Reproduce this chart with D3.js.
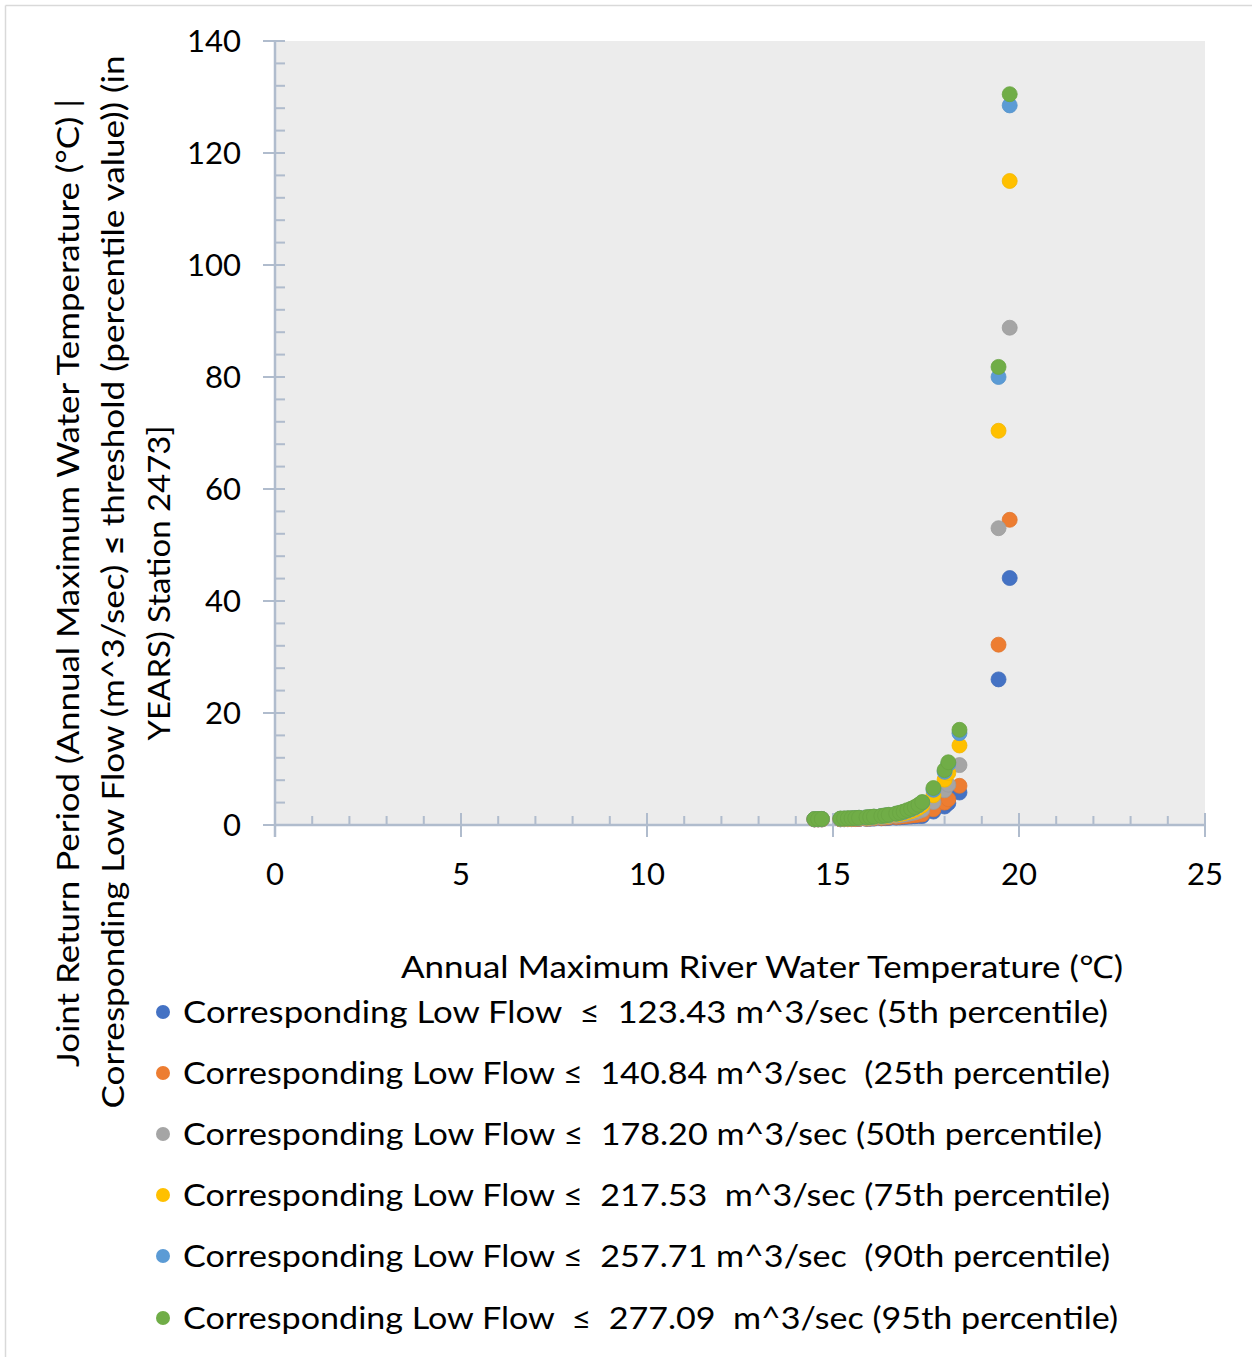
<!DOCTYPE html>
<html>
<head>
<meta charset="utf-8">
<script src="https://cdn.jsdelivr.net/npm/d3@7"></script>
<style>
  body { margin: 0; background: #fff; }
  text { font-family: Lato, "Open Sans", sans-serif; fill: #000; }
</style>
</head>
<body>
<svg width="1252" height="1357"></svg>
<script>
// annual maximum water temperatures (x values, deg C)
var temps = [14.5, 14.6, 14.7, 15.2, 15.3, 15.4, 15.5, 15.6, 15.7, 15.9, 16.0, 16.1, 16.3, 16.4, 16.5,
             16.7, 16.8, 16.9, 17.0, 17.1, 17.2, 17.3, 17.4, 17.7, 18.0, 18.1, 18.4, 19.45, 19.75];

// joint return periods (years) for each low-flow threshold
var rp5  = [1.0, 1.0, 1.0, 1.02, 1.03, 1.04, 1.05, 1.06, 1.08, 1.1, 1.12, 1.15, 1.2, 1.23, 1.27,
            1.33, 1.37, 1.42, 1.47, 1.52, 1.57, 1.62, 1.6, 2.4, 3.3, 3.9, 5.8, 26.0, 44.1];
var rp25 = [1.0, 1.0, 1.0, 1.03, 1.04, 1.05, 1.06, 1.08, 1.1, 1.13, 1.16, 1.2, 1.26, 1.3, 1.35,
            1.43, 1.48, 1.54, 1.6, 1.68, 1.75, 1.82, 1.9, 2.8, 4.0, 4.6, 7.0, 32.2, 54.5];
var rp50 = [1.02, 1.03, 1.04, 1.07, 1.08, 1.1, 1.12, 1.14, 1.17, 1.22, 1.26, 1.31, 1.4, 1.46, 1.53,
            1.66, 1.74, 1.84, 1.96, 2.1, 2.25, 2.45, 2.7, 4.1, 6.2, 7.2, 10.7, 53.0, 88.8];
var rp75 = [1.04, 1.05, 1.06, 1.1, 1.12, 1.14, 1.16, 1.19, 1.23, 1.3, 1.35, 1.41, 1.52, 1.6, 1.68,
            1.86, 1.97, 2.1, 2.28, 2.48, 2.72, 3.05, 3.5, 5.3, 8.1, 9.3, 14.2, 70.4, 115.0];
var rp90 = [1.05, 1.06, 1.08, 1.13, 1.15, 1.18, 1.2, 1.24, 1.28, 1.36, 1.41, 1.48, 1.6, 1.69, 1.78,
            2.0, 2.14, 2.32, 2.55, 2.8, 3.1, 3.5, 4.0, 6.3, 9.5, 10.9, 16.4, 80.0, 128.5];
var rp95 = [1.05, 1.07, 1.09, 1.15, 1.17, 1.2, 1.22, 1.25, 1.3, 1.38, 1.43, 1.5, 1.62, 1.72, 1.82,
            2.05, 2.2, 2.4, 2.65, 2.9, 3.2, 3.6, 4.1, 6.6, 9.8, 11.2, 17.0, 81.8, 130.5];

var seriesNames = [
  "Corresponding Low Flow  \u2264  123.43 m^3/sec (5th percentile)",
  "Corresponding Low Flow \u2264  140.84 m^3/sec  (25th percentile)",
  "Corresponding Low Flow \u2264  178.20 m^3/sec (50th percentile)",
  "Corresponding Low Flow \u2264  217.53  m^3/sec (75th percentile)",
  "Corresponding Low Flow \u2264  257.71 m^3/sec  (90th percentile)",
  "Corresponding Low Flow  \u2264  277.09  m^3/sec (95th percentile)"
];
var seriesValues = [rp5, rp25, rp50, rp75, rp90, rp95];
var seriesColors = ["#4472c4", "#ed7d31", "#a5a5a5", "#ffc000", "#5b9bd5", "#70ad47"];
var xTickLabels = [0, 5, 10, 15, 20, 25];
var yTickLabels = [0, 20, 40, 60, 80, 100, 120, 140];

var svg = d3.select("svg");
var axisCol = "#b0bccd";

// chart frame (cropped at right/bottom)
svg.append("line").attr("x1", 5.5).attr("x2", 1252).attr("y1", 5.5).attr("y2", 5.5)
  .attr("stroke", "#d9d9d9").attr("stroke-width", 1.5);
svg.append("line").attr("x1", 5.5).attr("x2", 5.5).attr("y1", 5.5).attr("y2", 1357)
  .attr("stroke", "#d9d9d9").attr("stroke-width", 1.5);

var x = d3.scaleLinear().domain([0, 25]).range([275, 1205]);
var y = d3.scaleLinear().domain([0, 140]).range([825, 41]);

// plot area
svg.append("rect").attr("x", x(0)).attr("y", y(140))
  .attr("width", x(25) - x(0)).attr("height", y(0) - y(140)).attr("fill", "#ececec");

var g = svg.append("g");

// x minor ticks (every 1) inside, majors crossing
d3.range(0, 26, 1).forEach(function(v) {
  if (v % 5 === 0) {
    g.append("line").attr("x1", x(v)).attr("x2", x(v)).attr("y1", y(0) - 12).attr("y2", y(0) + 12)
      .attr("stroke", axisCol).attr("stroke-width", 2);
  } else {
    g.append("line").attr("x1", x(v)).attr("x2", x(v)).attr("y1", y(0) - 9).attr("y2", y(0))
      .attr("stroke", axisCol).attr("stroke-width", 2);
  }
});
// y minor ticks (every 4) inside, majors crossing
d3.range(0, 141, 4).forEach(function(v) {
  g.append("line").attr("x1", x(0)).attr("x2", x(0) + 10).attr("y1", y(v)).attr("y2", y(v))
    .attr("stroke", axisCol).attr("stroke-width", 2);
});
yTickLabels.forEach(function(v) {
  g.append("line").attr("x1", x(0) - 12).attr("x2", x(0) + 10).attr("y1", y(v)).attr("y2", y(v))
    .attr("stroke", axisCol).attr("stroke-width", 2);
});
// axis lines
g.append("line").attr("x1", x(0)).attr("x2", x(25)).attr("y1", y(0)).attr("y2", y(0))
  .attr("stroke", axisCol).attr("stroke-width", 2.5);
g.append("line").attr("x1", x(0)).attr("x2", x(0)).attr("y1", y(140)).attr("y2", y(0) + 12)
  .attr("stroke", axisCol).attr("stroke-width", 2.5);

// tick labels
g.selectAll("text.xl").data(xTickLabels).enter().append("text")
  .attr("x", function(d) { return x(d); }).attr("y", 885)
  .attr("text-anchor", "middle").style("font-size", "31px").text(function(d) { return d; });
g.selectAll("text.yl").data(yTickLabels).enter().append("text")
  .attr("x", 241).attr("y", function(d) { return y(d) + 11; })
  .attr("text-anchor", "end").style("font-size", "31px").text(function(d) { return d; });

// series points
seriesValues.forEach(function(vals, i) {
  svg.append("g").selectAll("circle")
    .data(vals)
    .enter().append("circle")
    .attr("cx", function(d, j) { return x(temps[j]); })
    .attr("cy", function(d) { return y(d); })
    .attr("r", 7.5)
    .attr("fill", seriesColors[i])
    .attr("stroke", d3.color(seriesColors[i]).darker(0.15))
    .attr("stroke-width", 0.8);
});

// x axis title
svg.append("text").attr("x", 401).attr("y", 978)
  .attr("textLength", 722).attr("lengthAdjust", "spacingAndGlyphs")
  .style("font-size", "31px").text("Annual Maximum River Water Temperature (\u2103)");

// y axis title (three rotated lines)
var t1 = svg.append("text")
  .attr("transform", "translate(79,583) rotate(-90)")
  .attr("text-anchor", "middle")
  .attr("textLength", 968).attr("lengthAdjust", "spacingAndGlyphs")
  .style("font-size", "31px")
  .text("Joint Return Period (Annual Maximum Water Temperature (\u00b0C) |");

var t2 = svg.append("text")
  .attr("transform", "translate(124,582) rotate(-90)")
  .attr("text-anchor", "middle")
  .attr("textLength", 1053).attr("lengthAdjust", "spacingAndGlyphs")
  .style("font-size", "31px");
t2.append("tspan").text("Corresponding Low Flow (m^3/sec) ");
t2.append("tspan").style("font-weight", "bold").text("\u2264");
t2.append("tspan").text(" threshold (percentile value)) (in");

svg.append("text")
  .attr("transform", "translate(170,583) rotate(-90)")
  .attr("text-anchor", "middle")
  .attr("textLength", 315).attr("lengthAdjust", "spacingAndGlyphs")
  .style("font-size", "31px").text("YEARS) Station 2473]");

// legend
var legendY = [1012, 1073, 1134, 1195, 1256, 1318];
var legendEnd = [1108, 1110, 1102, 1110, 1110, 1118];
seriesNames.forEach(function(name, i) {
  svg.append("circle").attr("cx", 163).attr("cy", legendY[i]).attr("r", 7)
    .attr("fill", seriesColors[i]);
  svg.append("text").attr("x", 183).attr("y", legendY[i] + 11)
    .style("white-space", "pre")
    .attr("textLength", legendEnd[i] - 183).attr("lengthAdjust", "spacingAndGlyphs")
    .style("font-size", "31px").text(name);
});
</script>
</body>
</html>
